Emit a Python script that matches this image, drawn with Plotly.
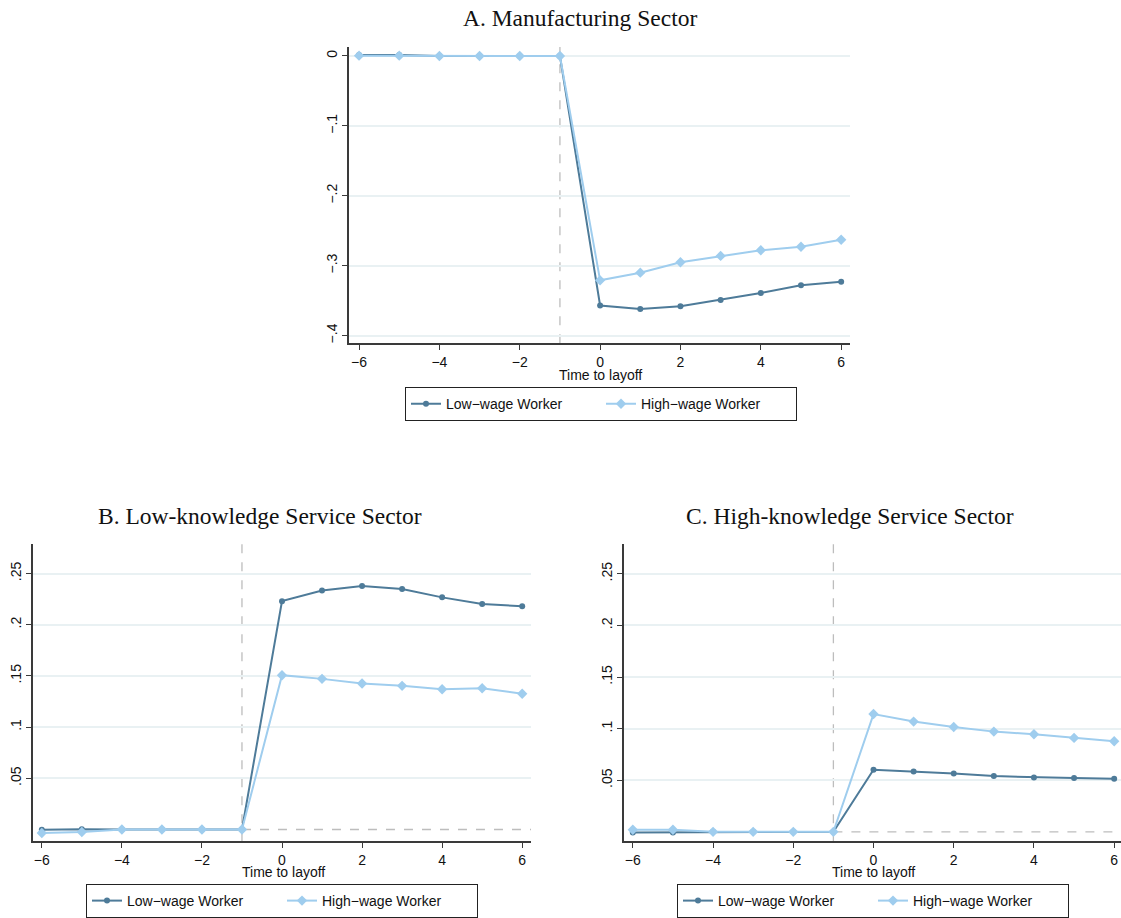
import plotly.graph_objects as go

t = [-6, -5, -4, -3, -2, -1, 0, 1, 2, 3, 4, 5, 6]

a_low = [0.0015, 0.0015, 0.0, 0.0, 0.0, 0.0, -0.357, -0.362, -0.358, -0.349, -0.339, -0.328, -0.323]
a_high = [0.0005, 0.0005, 0.0, 0.0, 0.0, 0.0, -0.321, -0.310, -0.295, -0.286, -0.278, -0.273, -0.263]

b_low = [-0.0003, 0.0003, 0.0, 0.0, 0.0, 0.0, 0.223, 0.2333, 0.2378, 0.2349, 0.2267, 0.2202, 0.218]
b_high = [-0.0035, -0.0025, 0.0, 0.0, 0.0, 0.0, 0.1507, 0.1471, 0.1426, 0.1403, 0.137, 0.138, 0.1325]

c_low = [-0.0006, -0.0006, 0.0, 0.0, 0.0, 0.0, 0.0601, 0.0585, 0.0566, 0.054, 0.0527, 0.0521, 0.0514]
c_high = [0.002, 0.002, 0.0, 0.0, 0.0, 0.0, 0.1141, 0.1068, 0.1016, 0.0971, 0.0945, 0.091, 0.0878]

titles = ["A. Manufacturing Sector", "B. Low-knowledge Service Sector", "C. High-knowledge Service Sector"]
series_names = ["Low\u2212wage Worker", "High\u2212wage Worker"]
x_ticks = [-6, -4, -2, 0, 2, 4, 6]
a_yticks = [0, -0.1, -0.2, -0.3, -0.4]
a_ylabels = ["0", "\u2212.1", "\u2212.2", "\u2212.3", "\u2212.4"]
bc_yticks = [0.05, 0.1, 0.15, 0.2, 0.25]
bc_ylabels = [".05", ".1", ".15", ".2", ".25"]

W, H = 1121, 918
LOW_C = "#4e7b99"
HIGH_C = "#9fcdee"
GRID_C = "#e9f1f3"
DASH_C = "#bdbdbd"
AX_C = "#3a3a3a"
SANS = "Liberation Sans, Arial, sans-serif"
SERIF = "Liberation Serif, Times New Roman, serif"

def px_x(p):
    return p / W

def px_y(p):
    return 1 - p / H

panels = [
    # (low, high, xdomain px, ydomain px, xrange, yrange, yticks, ylabels, legend center x px, legend top px, title center x px, title y px, xtitle y px)
    (a_low, a_high, (349, 850), (47, 344), (-6.25, 6.22), (-0.411, 0.013), a_yticks, a_ylabels, 601, 388, 580, 18, 376),
    (b_low, b_high, (33, 531), (545, 843), (-6.22, 6.22), (-0.0114, 0.279), bc_yticks, bc_ylabels, 282, 886, 260, 517, 874),
    (c_low, c_high, (624, 1121), (545, 843), (-6.22, 6.17), (-0.009, 0.279), bc_yticks, bc_ylabels, 873, 886, 850, 517, 874),
]

fig = go.Figure()
layout = dict(
    width=W, height=H, margin=dict(l=0, r=0, t=0, b=0),
    paper_bgcolor="white", plot_bgcolor="white",
    font=dict(family=SANS, size=14, color="#111111"),
    showlegend=True, shapes=[], annotations=[],
)

for i, (low, high, xd, yd, xr, yr, yt, yl, lcx, ltop, tcx, ty, xty) in enumerate(panels):
    k = "" if i == 0 else str(i + 1)
    xa, ya = "x" + k, "y" + k
    leg = "legend" + k
    fig.add_trace(go.Scatter(
        x=t, y=low, mode="lines+markers", name=series_names[0],
        line=dict(color=LOW_C, width=2), marker=dict(symbol="circle", size=6, color=LOW_C),
        xaxis=xa, yaxis=ya, legend=leg, cliponaxis=False,
    ))
    fig.add_trace(go.Scatter(
        x=t, y=high, mode="lines+markers", name=series_names[1],
        line=dict(color=HIGH_C, width=2), marker=dict(symbol="diamond", size=8, color=HIGH_C),
        xaxis=xa, yaxis=ya, legend=leg, cliponaxis=False,
    ))
    layout["xaxis" + k] = dict(
        domain=[px_x(xd[0]), px_x(xd[1])], range=list(xr), anchor=ya,
        tickvals=x_ticks, ticktext=[str(v).replace("-", "\u2212") for v in x_ticks],
        ticks="outside", ticklen=5, tickcolor=AX_C, showgrid=False, zeroline=False,
        showline=True, linecolor=AX_C, linewidth=1.5,
        tickfont=dict(family=SANS, size=14, color="#111111"),
    )
    layout["yaxis" + k] = dict(
        domain=[px_y(yd[1]), px_y(yd[0])], range=list(yr), anchor=xa,
        tickvals=yt, ticktext=yl, tickangle=-90,
        ticks="outside", ticklen=5, tickcolor=AX_C, showgrid=True, gridcolor=GRID_C, gridwidth=1.5,
        zeroline=False, showline=True, linecolor=AX_C, linewidth=1.5,
        tickfont=dict(family=SANS, size=14, color="#111111"),
    )
    layout[leg] = dict(
        x=px_x(lcx), xanchor="center", y=px_y(ltop), yanchor="top",
        orientation="h", bordercolor="#222222", borderwidth=1, bgcolor="white",
        font=dict(family=SANS, size=14, color="#111111"),
        entrywidth=150, entrywidthmode="pixels", itemsizing="trace",
    )
    # vertical dashed line at t = -1
    layout["shapes"].append(dict(
        type="line", xref=xa, yref=ya + " domain", x0=-1, x1=-1, y0=0, y1=1,
        line=dict(color=DASH_C, width=1.3, dash="dash"), layer="below",
    ))
    # horizontal dashed line at 0
    layout["shapes"].append(dict(
        type="line", xref=xa, yref=ya, x0=-1, x1=xr[1], y0=0, y1=0,
        line=dict(color=DASH_C, width=1.3, dash="dash"), layer="below",
    ))
    layout["annotations"].append(dict(
        text=titles[i], xref="paper", yref="paper",
        x=px_x(tcx), y=px_y(ty),
        xanchor="center", yanchor="middle", showarrow=False,
        font=dict(family=SERIF, size=23.5, color="#111111"),
    ))
    layout["annotations"].append(dict(
        text="Time to layoff", xref="paper", yref="paper",
        x=px_x((xd[0] + xd[1]) / 2 + 1), y=px_y(xty),
        xanchor="center", yanchor="middle", showarrow=False,
        font=dict(family=SANS, size=14, color="#111111"),
    ))

fig.update_layout(**layout)
fig.write_html(
    "out.html",
    config={"displayModeBar": False},
    post_script="document.body.style.margin='0px';document.body.style.overflow='hidden';",
)
